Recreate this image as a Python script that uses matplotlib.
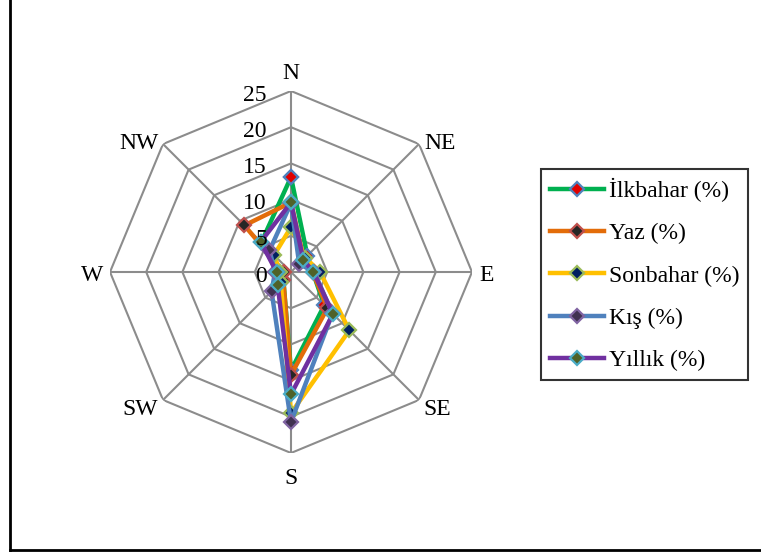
import numpy as np
import matplotlib
matplotlib.use("Agg")
import matplotlib.pyplot as plt
from matplotlib.lines import Line2D

plt.rcParams['font.family'] = ['Liberation Serif', 'DejaVu Serif']

directions = ["N", "NE", "E", "SE", "S", "SW", "W", "NW"]
series_names = ["İlkbahar (%)", "Yaz (%)", "Sonbahar (%)", "Kış (%)", "Yıllık (%)"]
ilkbahar = [13.1, 3.2, 3.0, 6.5, 13.6, 1.5, 1.8, 5.8]
yaz = [9.6, 2.5, 3.0, 7.1, 14.2, 1.5, 1.0, 9.1]
sonbahar = [6.2, 2.8, 4.0, 11.4, 19.5, 2.0, 1.5, 3.3]
kis = [9.5, 1.6, 3.2, 8.1, 20.7, 3.8, 2.2, 4.2]
yillik = [9.6, 2.4, 3.1, 8.2, 16.9, 2.6, 2.0, 5.9]
radial_ticks = [0, 5, 10, 15, 20, 25]

values = [ilkbahar, yaz, sonbahar, kis, yillik]
line_colors = ["#00B050", "#E36C09", "#FFC000", "#4F81BD", "#7030A0"]
face_colors = ["#E00000", "#262626", "#002060", "#403151", "#4F6228"]
edge_colors = ["#4F81BD", "#C0504D", "#9BBB59", "#8064A2", "#4BACC6"]

W, H = 761, 556
fig = plt.figure(figsize=(W / 100, H / 100), dpi=100)

cx, cy, R = 291, 272, 181
ax = fig.add_axes([(cx - R) / W, (H - cy - R) / H, 2 * R / W, 2 * R / H],
                  projection="polar")
ax.set_theta_zero_location("N")
ax.set_theta_direction(-1)
ax.set_ylim(0, radial_ticks[-1])
ax.grid(False)
ax.spines["polar"].set_visible(False)
ax.set_xticks([])
ax.set_yticks([])
ax.patch.set_alpha(0)

n = len(directions)
theta = np.arange(n) * 2 * np.pi / n
theta_closed = np.append(theta, theta[0])

# octagonal grid rings and spokes
grid_col = "#8C8C8C"
for r in radial_ticks[1:]:
    ax.plot(theta_closed, [r] * (n + 1), color=grid_col, lw=1.5, zorder=1)
for t in theta:
    ax.plot([t, t], [0, radial_ticks[-1]], color=grid_col, lw=1.5, zorder=1)

# direction labels, nudged outward from the outer ring vertices (pixels)
label_offsets = [(0, 18), (21, 1), (15, -3), (18, -10),
                 (0, -25), (-23, -10), (-18, -3), (-24, 1)]
for t, d, off in zip(theta, directions, label_offsets):
    ax.annotate(d, xy=(t, radial_ticks[-1]), xytext=off,
                textcoords="offset pixels", ha="center", va="center",
                fontsize=17, annotation_clip=False)

# radial value labels beside the north spoke, drawn above the series
for r in radial_ticks:
    ax.annotate(str(r), xy=(0, r), xytext=(-24, -4), textcoords="offset pixels",
                ha="right", va="center", fontsize=17, annotation_clip=False,
                zorder=6)

handles = []
for vals, name, lc, fc, ec in zip(values, series_names, line_colors,
                                  face_colors, edge_colors):
    v = np.append(vals, vals[0])
    h, = ax.plot(theta_closed, v, color=lc, lw=3.2, marker="D", markersize=7.5,
                 markerfacecolor=fc, markeredgecolor=ec, markeredgewidth=1.6,
                 label=name, zorder=3, clip_on=False)
    handles.append(h)

leg = fig.legend(handles=handles, loc="upper left",
                 bbox_to_anchor=(541 / W, 1 - 169 / H), borderaxespad=0,
                 fontsize=17, frameon=True, fancybox=False, edgecolor="black",
                 labelspacing=0.88, handlelength=2.3, handletextpad=0.2,
                 borderpad=0.38)
leg.get_frame().set_linewidth(1.5)

# outer frame
fig.add_artist(Line2D([10 / W, 10 / W], [1 - 550 / H, 1.0], color="black",
                      lw=2, transform=fig.transFigure))
fig.add_artist(Line2D([10 / W, 1.0], [1 - 550 / H, 1 - 550 / H], color="black",
                      lw=2, transform=fig.transFigure))

fig.savefig("out.png", dpi=100)
